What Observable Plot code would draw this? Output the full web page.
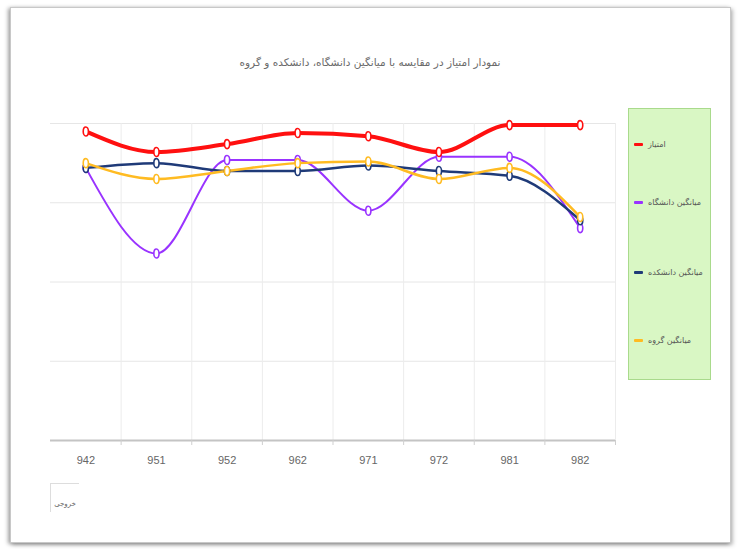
<!DOCTYPE html>
<html>
<head>
<meta charset="utf-8">
<script src="https://cdn.jsdelivr.net/npm/d3@7"></script>
<script src="https://cdn.jsdelivr.net/npm/@observablehq/plot@0.6"></script>
<style>
  html, body { margin: 0; padding: 0; background: #fff; width: 740px; height: 549px; overflow: hidden; }
  #frame { position: absolute; left: 10px; top: 7px; width: 719px; height: 534px; border: 1px solid #c8c8c8;
           box-shadow: -2px 1px 4px rgba(0,0,0,0.35), 2px 2px 4px rgba(0,0,0,0.25); background: #fff; }
  #chart { position: absolute; left: 0; top: 0; }
  #title { position: absolute; left: 0; width: 740px; top: 56px; text-align: center; direction: rtl;
           font-family: "DejaVu Sans", sans-serif; font-size: 10.5px; color: #6a6a6a; }
  #legend { position: absolute; left: 628px; top: 108px; width: 83px; height: 272px; background: #d9f7c4;
            border: 1px solid #a9da8c; box-sizing: border-box; }
  .item { position: absolute; left: 5px; display: flex; align-items: center; font-family: "DejaVu Sans", sans-serif;
          font-size: 8px; color: #555; white-space: nowrap; }
  .item .sw { width: 9px; height: 3px; margin-right: 5px; border-radius: 1px; }
  #out { position: absolute; left: 50px; top: 483px; width: 28px; height: 28px; border-top: 1px solid #ddd; border-left: 1px solid #ddd;
         font-family: "DejaVu Sans", sans-serif; font-size: 7px; color: #666; text-align: center; line-height: 40px; direction: rtl; }
</style>
</head>
<body>
<div id="frame"></div>
<div id="chart"></div>
<div id="title">نمودار امتیاز در مقایسه با میانگین دانشگاه، دانشکده و گروه</div>
<div id="legend"></div>
<div id="out">خروجی</div>
<script>
const categories = ["942", "951", "952", "962", "971", "972", "981", "982"];
const seriesNames = ["امتیاز", "میانگین دانشگاه", "میانگین دانشکده", "میانگین گروه"];
const seriesColors = ["#ff1010", "#9933ff", "#1f3a78", "#ffbb22"];
const score      = [19.5, 18.2, 18.7, 19.4, 19.2, 18.2, 19.9, 19.9];
const university = [17.2, 11.8, 17.7, 17.7, 14.5, 17.9, 17.9, 13.4];
const faculty    = [17.2, 17.5, 17.0, 17.0, 17.35, 17.0, 16.7, 13.9];
const group      = [17.5, 16.5, 17.0, 17.5, 17.6, 16.5, 17.2, 14.1];
const yTicks = [0, 5, 10, 15, 20];

const seriesValues = [score, university, faculty, group];
const seriesOrder = [1, 2, 3, 0];
const rows = [];
seriesOrder.forEach((si) => {
  seriesValues[si].forEach((v, i) => rows.push({series: seriesNames[si], idx: i, value: v}));
});
const widths = {[seriesNames[0]]: 4, [seriesNames[1]]: 2, [seriesNames[2]]: 2.5, [seriesNames[3]]: 2.5};
const boundaries = categories.map((c, i) => i + 0.5);
const centers = categories.map((c, i) => i);

const ellipse = {
  draw(ctx, size) {
    const r = Math.sqrt(size / Math.PI);
    const rx = r * 0.72, ry = r * 1.25, k = 0.5523;
    ctx.moveTo(rx, 0);
    ctx.bezierCurveTo(rx, ry * k, rx * k, ry, 0, ry);
    ctx.bezierCurveTo(-rx * k, ry, -rx, ry * k, -rx, 0);
    ctx.bezierCurveTo(-rx, -ry * k, -rx * k, -ry, 0, -ry);
    ctx.bezierCurveTo(rx * k, -ry, rx, -ry * k, rx, 0);
    ctx.closePath();
  }
};

const marks = [
  Plot.ruleY(yTicks.filter(d => d > 0), {stroke: "#e6e6e6", strokeWidth: 1}),
  Plot.ruleX(boundaries, {stroke: "#ececec", strokeWidth: 1}),
  Plot.ruleY([0], {stroke: "#c4c4c4", strokeWidth: 2}),
  Plot.axisX({ticks: boundaries, tickSize: 5, tickFormat: () => "", stroke: "#cfcfcf", label: null}),
  Plot.axisX({ticks: centers, tickSize: 0, tickPadding: 16, tickFormat: i => categories[i], label: null,
              fontSize: 11, fill: "#666", fontFamily: "Liberation Sans Narrow, Liberation Sans, sans-serif"})
];
seriesOrder.forEach(si => {
  const name = seriesNames[si];
  const data = rows.filter(r => r.series === name);
  marks.push(Plot.line(data, {x: "idx", y: "value", stroke: seriesColors[si], strokeWidth: widths[name], curve: "monotone-x"}));
});
seriesOrder.forEach(si => {
  const name = seriesNames[si];
  const data = rows.filter(r => r.series === name);
  marks.push(Plot.dot(data, {x: "idx", y: "value", r: 3.6, symbol: ellipse, fill: "white", stroke: seriesColors[si], strokeWidth: 1.6}));
});

const chart = Plot.plot({
  width: 740,
  height: 549,
  marginLeft: 50,
  marginRight: 125,
  marginTop: 123,
  marginBottom: 109,
  x: {type: "linear", domain: [-0.5, 7.5], axis: null},
  y: {domain: [0, 20], axis: null},
  style: {background: "transparent", overflow: "visible"},
  marks
});
document.getElementById("chart").appendChild(chart);

const legend = document.getElementById("legend");
const legendTops = [31, 89, 159, 227];
seriesNames.forEach((name, i) => {
  const it = document.createElement("div");
  it.className = "item";
  it.style.top = legendTops[i] + "px";
  const sw = document.createElement("span");
  sw.className = "sw";
  sw.style.background = seriesColors[i];
  const tx = document.createElement("span");
  tx.textContent = name;
  tx.style.direction = "rtl";
  it.appendChild(sw);
  it.appendChild(tx);
  legend.appendChild(it);
});
</script>
</body>
</html>
